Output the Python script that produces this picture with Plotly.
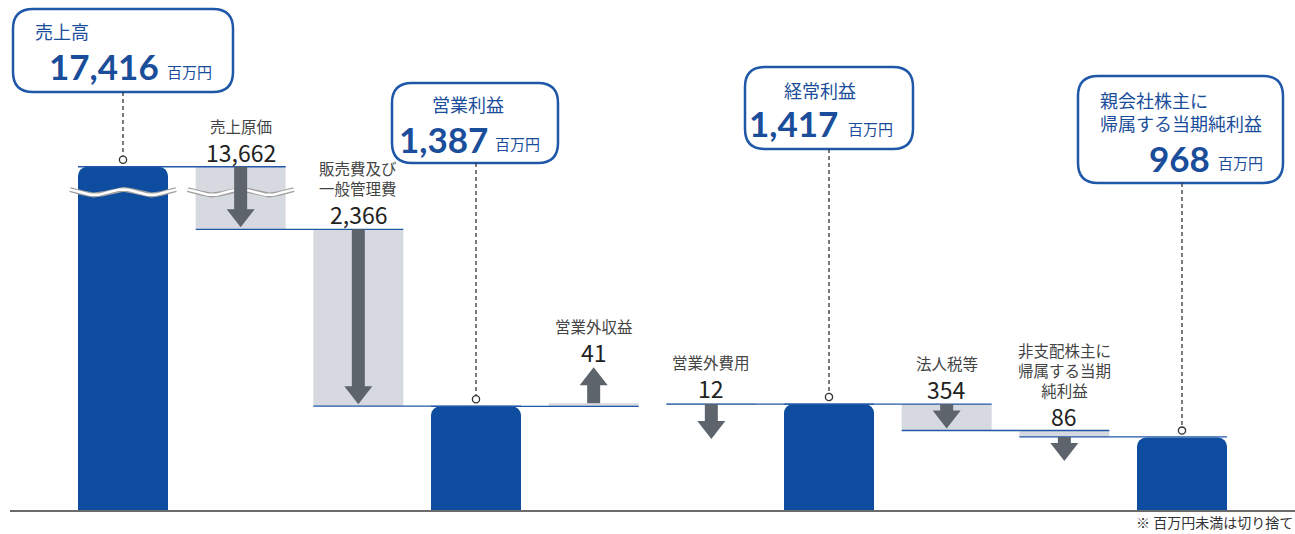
import numpy as np
import plotly.graph_objects as go

# ---------------- data ----------------
categories = ["売上高", "売上原価", "販売費及び<br>一般管理費", "営業利益", "営業外収益",
              "営業外費用", "経常利益", "法人税等", "非支配株主に<br>帰属する当期<br>純利益",
              "親会社株主に<br>帰属する当期純利益"]
values = [17416, 13662, 2366, 1387, 41, 12, 1417, 354, 86, 968]
kinds = ["total", "down", "down", "total", "up", "down", "total", "down", "down", "total"]
value_labels = ["17,416", "13,662", "2,366", "1,387", "41", "12", "1,417", "354", "86", "968"]
UNIT = "百万円"
NOTE = "※ 百万円未満は切り捨て"

# ---------------- style ----------------
W, H = 1295, 534
ML, MR, MT, MB = 10, 0, 0, 24
PLOT_W, PLOT_H = W - ML - MR, H - MT - MB
X_RANGE = [-0.9603, 9.9603]
Y_MAX = 6820
PX_X = PLOT_W / (X_RANGE[1] - X_RANGE[0])
PX_Y = PLOT_H / Y_MAX
BW = 90 / PX_X
REVENUE_CAP = 4590          # displayed height of the broken revenue bar
BREAK_LEVEL = 4250
BLUE = "#0d4c9e"
LINE_BLUE = "#2358a8"
GRAY_BOX = "#d6d9e0"
ARROW = "#5d646b"
TXT_BLUE = "#1a4d9a"
FONT = "Noto Sans CJK JP"
NUM_FONT = "Lato"
SMALL_ARROW_PX = {4: 36, 5: 35, 8: 24}
CONNECT = [0, 1, 2, 3, 5, 6, 7, 8]
# callout boxes: (left px offset, right px offset, top px, bottom px)
CALLOUT = {0: (-110, 110, 9, 92), 3: (-84, 82, 83, 163), 6: (-84, 84, 67, 149), 9: (-104, 101, 76, 183)}


def disp(v):
    return min(v, REVENUE_CAP)


def py(v):  # data value -> px from plot top
    return PLOT_H - disp(v) * PX_Y


# running levels
starts, ends = [], []
level = None
for v, k in zip(values, kinds):
    if k == "total":
        s = e = v
    elif k == "down":
        s, e = level, level - v
    else:
        s, e = level, level + v
    starts.append(s)
    ends.append(e)
    level = e

fig = go.Figure()

tot_idx = [i for i, k in enumerate(kinds) if k == "total"]
chg_idx = [i for i, k in enumerate(kinds) if k != "total"]

fig.add_trace(go.Bar(x=tot_idx, y=[disp(values[i]) for i in tot_idx], width=BW,
                     marker=dict(color=BLUE, cornerradius=9, line=dict(width=0)),
                     hoverinfo="skip"))
fig.add_trace(go.Bar(x=chg_idx,
                     base=[min(disp(starts[i]), disp(ends[i])) for i in chg_idx],
                     y=[abs(disp(starts[i]) - disp(ends[i])) for i in chg_idx], width=BW,
                     marker=dict(color=GRAY_BOX, line=dict(width=0)), hoverinfo="skip"))

shapes = []
# connector lines
for k in CONNECT:
    lvl = disp(ends[k])
    shapes.append(dict(type="line", xref="x", yref="y", x0=k - BW / 2, x1=k + 1 + BW / 2,
                       y0=lvl, y1=lvl, line=dict(color=LINE_BLUE, width=1.3), layer="above"))

# arrows
HEAD = 18
for i in chg_idx:
    s, e = disp(starts[i]), disp(ends[i])
    if i in SMALL_ARROW_PX:
        L = SMALL_ARROW_PX[i]
        if kinds[i] == "up":
            a0, tip = e, e + L / PX_Y
        else:
            a0, tip = e, e - L / PX_Y
    else:
        a0, tip = s, e + 2 / PX_Y
    sign = 1 if tip > a0 else -1
    hb = tip - sign * HEAD / PX_Y
    path = (f"M -6.5,{a0} L 6.5,{a0} L 6.5,{hb} L 14,{hb} L 0,{tip} L -14,{hb} "
            f"L -6.5,{hb} Z")
    shapes.append(dict(type="path", xref="x", yref="y", xsizemode="pixel", xanchor=i,
                       path=path, fillcolor=ARROW, line=dict(width=0), layer="above"))


def rrect(l, r, t, b, rad=20):
    T, B = -t, -b
    return (f"M {l + rad},{T} L {r - rad},{T} Q {r},{T} {r},{T - rad} L {r},{B + rad} "
            f"Q {r},{B} {r - rad},{B} L {l + rad},{B} Q {l},{B} {l},{B + rad} "
            f"L {l},{T - rad} Q {l},{T} {l + rad},{T} Z")


annotations = []
for i, (l, r, t, b) in CALLOUT.items():
    shapes.append(dict(type="path", xref="x", yref="paper", xsizemode="pixel", ysizemode="pixel",
                       xanchor=i, yanchor=1, path=rrect(l, r, t, b), fillcolor="white",
                       line=dict(color="#1f58a8", width=2.5), layer="above"))
    cy = py(values[i]) - 7
    shapes.append(dict(type="line", xref="x", yref="paper", x0=i, x1=i,
                       y0=1 - b / PLOT_H, y1=1 - (cy - 4) / PLOT_H,
                       line=dict(color="#333333", width=1.3, dash="4px,3px"), layer="above"))
    shapes.append(dict(type="circle", xref="x", yref="paper", xsizemode="pixel", ysizemode="pixel",
                       xanchor=i, yanchor=1 - cy / PLOT_H, x0=-3.6, x1=3.6, y0=-3.6, y1=3.6,
                       fillcolor="white", line=dict(color="#333333", width=1.3), layer="above"))

# callout texts (px positions relative to plot top / category center)
callout_text = {
    0: dict(title=("left", -90, 31), num=(38, 66), unit=(42, 71)),
    3: dict(title=("center", -8, 104), num=(14, 139), unit=(17, 143)),
    6: dict(title=("center", -9, 90), num=(11, 123), unit=(17, 128)),
    9: dict(title=("left", -84, 111), num=(30, 158), unit=(34, 162)),
}
for i, spec in callout_text.items():
    anchor, dx, ty = spec["title"]
    annotations.append(dict(xref="x", yref="paper", x=i, y=1, xshift=dx, yshift=-ty,
                            xanchor=anchor, yanchor="middle", align="left",
                            text=categories[i], showarrow=False,
                            font=dict(family=FONT, size=18, color=TXT_BLUE)))
    nx, ny = spec["num"]
    annotations.append(dict(xref="x", yref="paper", x=i, y=1, xshift=nx, yshift=-ny,
                            xanchor="right", yanchor="middle",
                            text=f"<b>{value_labels[i]}</b>",
                            showarrow=False, font=dict(family=NUM_FONT, size=35, color=TXT_BLUE)))
    ux, uy = spec["unit"]
    annotations.append(dict(xref="x", yref="paper", x=i, y=1, xshift=ux, yshift=-uy,
                            xanchor="left", yanchor="middle", text=UNIT, showarrow=False,
                            font=dict(family=FONT, size=15, color=TXT_BLUE)))

# change labels
for i in chg_idx:
    s, e = disp(starts[i]), disp(ends[i])
    if kinds[i] == "up":
        ref = e + SMALL_ARROW_PX.get(i, 0) / PX_Y
    else:
        ref = s
    annotations.append(dict(xref="x", yref="y", x=i, y=ref, yshift=15, xanchor="center",
                            yanchor="middle", text=value_labels[i], showarrow=False,
                            font=dict(family=FONT, size=23, color="#222222")))
    annotations.append(dict(xref="x", yref="y", x=i, y=ref, yshift=28, xanchor="center",
                            yanchor="bottom", text=categories[i], showarrow=False,
                            font=dict(family=FONT, size=15.5, color="#444444")))

annotations.append(dict(xref="paper", yref="paper", x=1, y=0, yshift=-12, xanchor="right",
                        yanchor="middle", text=NOTE, showarrow=False,
                        font=dict(family=FONT, size=14, color="#333333")))

# break waves
for i in [0, 1]:
    xs = np.linspace(i - BW / 2 - 8 / PX_X, i + BW / 2 + 8 / PX_X, 120)
    ys = BREAK_LEVEL + (2.8 / PX_Y) * np.cos(2 * np.pi * (xs - i) * PX_X / 57)
    fig.add_trace(go.Scatter(x=xs, y=ys, mode="lines", line=dict(color="#a0a0a0", width=5),
                             hoverinfo="skip"))
    fig.add_trace(go.Scatter(x=xs, y=ys, mode="lines", line=dict(color="white", width=2.5),
                             hoverinfo="skip"))

fig.update_layout(
    width=W, height=H, margin=dict(l=ML, r=MR, t=MT, b=MB),
    paper_bgcolor="white", plot_bgcolor="white", showlegend=False,
    barmode="overlay", shapes=shapes, annotations=annotations,
    xaxis=dict(range=X_RANGE, showgrid=False, zeroline=False, showticklabels=False,
               ticks="", showline=True, linecolor="#6b6b6b", linewidth=2, fixedrange=True),
    yaxis=dict(range=[0, Y_MAX], showgrid=False, zeroline=False, showticklabels=False,
               ticks="", showline=False, fixedrange=True),
)
fig.write_html("out.html")
